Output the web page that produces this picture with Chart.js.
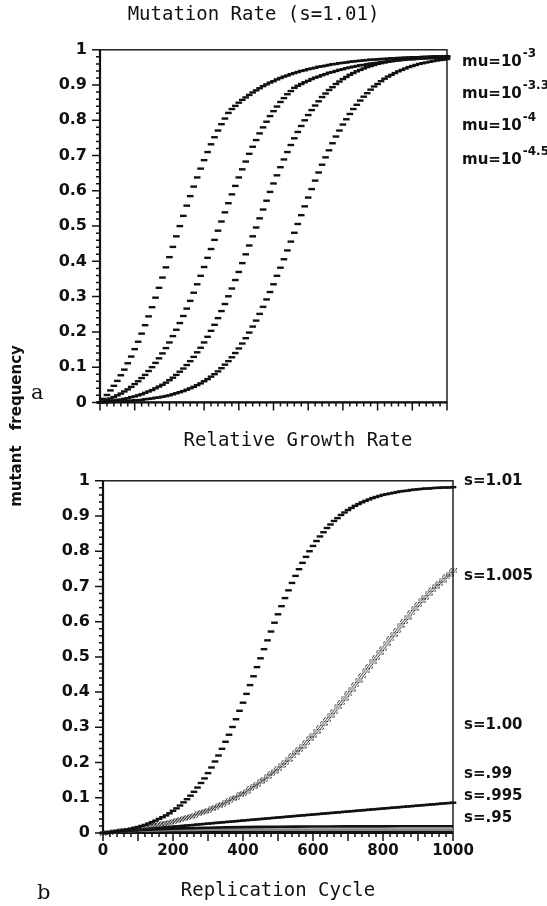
<!DOCTYPE html>
<html>
<head>
<meta charset="utf-8">
<title>mutant frequency</title>
<script src="https://cdn.jsdelivr.net/npm/chart.js@4.4.1/dist/chart.umd.min.js"></script>
<style>
  body { margin: 0; background: #fff; }
  #page { position: relative; width: 547px; height: 906px; overflow: hidden; }
  #page canvas { position: absolute; left: 0; }
  #topChart { top: 0; }
  #bottomChart { top: 425px; }
  .ylab {
    position: absolute; left: 16px; top: 426px;
    transform: translate(-50%, -50%) rotate(-90deg);
    font: bold 15px "DejaVu Sans", sans-serif; color: #111;
    white-space: nowrap; word-spacing: 10px;
  }
  .panel { position: absolute; font: 21px "DejaVu Serif", serif; line-height: 21px; color: #111; }
</style>
</head>
<body>
<div id="page">
  <canvas id="topChart" width="547" height="425"></canvas>
  <canvas id="bottomChart" width="547" height="481"></canvas>
  <div class="ylab">mutant frequency</div>
  <div class="panel" style="left:31px;top:382px">a</div>
  <div class="panel" style="left:37px;top:882px">b</div>
</div>
<script>
// ======================================================
// DATA (one point every 10 cycles)
// ======================================================
const cycles = [0, 10, 20, 30, 40, 50, 60, 70, 80, 90,
  100, 110, 120, 130, 140, 150, 160, 170, 180, 190,
  200, 210, 220, 230, 240, 250, 260, 270, 280, 290,
  300, 310, 320, 330, 340, 350, 360, 370, 380, 390,
  400, 410, 420, 430, 440, 450, 460, 470, 480, 490,
  500, 510, 520, 530, 540, 550, 560, 570, 580, 590,
  600, 610, 620, 630, 640, 650, 660, 670, 680, 690,
  700, 710, 720, 730, 740, 750, 760, 770, 780, 790,
  800, 810, 820, 830, 840, 850, 860, 870, 880, 890,
  900, 910, 920, 930, 940, 950, 960, 970, 980, 990, 1000];
const cycles50 = [0, 50, 100, 150, 200, 250, 300, 350, 400, 450, 500,
  550, 600, 650, 700, 750, 800, 850, 900, 950, 1000];

// panel a : s = 1.01, four mutation rates
const mu3 = [0, .010, .021, .034, .047, .061, .077, .093, .111, .130,
  .151, .172, .195, .219, .244, .270, .297, .325, .354, .383,
  .412, .441, .471, .500, .529, .558, .585, .612, .638, .663,
  .687, .710, .732, .752, .771, .789, .805, .821, .832, .841,
  .850, .858, .865, .872, .879, .885, .891, .897, .902, .907,
  .911, .916, .920, .924, .927, .931, .934, .937, .940, .942,
  .945, .947, .949, .952, .953, .955, .957, .959, .960, .962,
  .963, .964, .966, .967, .968, .969, .970, .971, .972, .972,
  .973, .974, .974, .975, .976, .976, .977, .977, .978, .978,
  .979, .979, .979, .980, .980, .980, .981, .981, .981, .981, .981];
const mu35 = [0, .003, .007, .011, .015, .020, .025, .031, .037, .044,
  .052, .060, .069, .078, .089, .100, .112, .125, .139, .154,
  .170, .188, .206, .225, .245, .266, .288, .311, .335, .359,
  .384, .410, .435, .461, .487, .513, .539, .565, .590, .614,
  .638, .661, .683, .705, .725, .744, .763, .780, .796, .812,
  .826, .839, .852, .863, .874, .883, .892, .898, .903, .908,
  .912, .917, .921, .924, .928, .931, .935, .937, .940, .943,
  .945, .948, .950, .952, .954, .956, .957, .959, .961, .962,
  .963, .965, .966, .967, .968, .969, .970, .971, .972, .973,
  .973, .974, .975, .975, .976, .976, .977, .977, .978, .978, .979];
const mu4 = [0, .001, .002, .004, .005, .007, .008, .010, .012, .015,
  .017, .020, .023, .027, .031, .035, .040, .045, .050, .056,
  .063, .070, .078, .087, .096, .106, .117, .129, .142, .155,
  .170, .186, .203, .220, .239, .259, .279, .301, .323, .347,
  .370, .395, .420, .445, .471, .496, .522, .547, .572, .597,
  .621, .644, .667, .689, .710, .730, .749, .767, .784, .800,
  .815, .829, .842, .854, .866, .876, .886, .894, .903, .910,
  .917, .923, .929, .934, .939, .943, .947, .951, .954, .957,
  .960, .962, .964, .966, .968, .970, .971, .972, .974, .975,
  .976, .977, .978, .978, .979, .980, .980, .981, .981, .981, .982];
const mu45 = [0, 0, .001, .001, .002, .002, .003, .003, .004, .005,
  .006, .006, .007, .009, .010, .011, .013, .014, .016, .018,
  .020, .023, .026, .029, .032, .036, .040, .044, .049, .054,
  .060, .066, .073, .080, .088, .097, .107, .117, .128, .140,
  .153, .167, .182, .198, .215, .232, .251, .271, .292, .313,
  .335, .359, .382, .406, .431, .456, .481, .506, .531, .556,
  .581, .605, .629, .652, .674, .695, .715, .735, .754, .771,
  .788, .803, .818, .832, .844, .856, .867, .877, .887, .896,
  .903, .911, .918, .924, .929, .934, .939, .943, .947, .951,
  .954, .957, .960, .962, .964, .966, .968, .970, .971, .972, .974];
const muExponents = ['-3', '-3.3', '-4', '-4.5'];
const muLabelY = [0.966, 0.875, 0.783, 0.688];

// panel b : mu = 1e-4, different relative growth rates
const s1010 = mu4; // same run as mu=10^-4 in panel a
const s1005 = [0, .001, .002, .003, .004, .006, .007, .008, .010, .011,
  .013, .014, .016, .018, .020, .022, .024, .026, .028, .030,
  .033, .036, .038, .041, .044, .047, .050, .054, .057, .061,
  .065, .069, .073, .077, .082, .087, .092, .097, .102, .108,
  .113, .119, .126, .132, .139, .146, .153, .160, .168, .176,
  .184, .192, .201, .209, .219, .228, .238, .247, .257, .268,
  .278, .289, .300, .311, .322, .334, .346, .358, .370, .382,
  .395, .408, .421, .434, .447, .460, .473, .486, .499, .512,
  .525, .538, .551, .564, .576, .589, .601, .613, .625, .637,
  .648, .659, .670, .680, .690, .700, .709, .718, .727, .735, .744];
const s1000 = [0, .0009, .0018, .0027, .0036, .0045, .0054, .0063, .0072, .0081,
  .0090, .0098, .0107, .0116, .0125, .0134, .0143, .0152, .0161, .0170,
  .0178, .0187, .0196, .0205, .0214, .0222, .0231, .0240, .0249, .0258,
  .0266, .0275, .0284, .0293, .0301, .0310, .0319, .0327, .0336, .0345,
  .0354, .0362, .0371, .0380, .0388, .0397, .0405, .0414, .0423, .0431,
  .0440, .0448, .0457, .0466, .0474, .0483, .0491, .0500, .0508, .0517,
  .0525, .0534, .0542, .0551, .0559, .0568, .0576, .0585, .0593, .0602,
  .0610, .0619, .0627, .0636, .0644, .0653, .0661, .0670, .0678, .0686,
  .0695, .0703, .0712, .0720, .0728, .0736, .0745, .0753, .0761, .0770,
  .0778, .0786, .0794, .0803, .0811, .0819, .0828, .0836, .0844, .0852, .0861];
// these three stay flat, every 50 cycles
const s0995 = [0, .0043, .0077, .0103, .0123, .0139, .0151, .0160, .0167, .0173, .0177,
  .0180, .0183, .0185, .0187, .0188, .0189, .0190, .0190, .0191, .0191];
const s0990 = [0, .0038, .0062, .0075, .0084, .0089, .0092, .0094, .0095, .0096, .0096,
  .0096, .0096, .0096, .0096, .0096, .0096, .0096, .0096, .0096, .0096];
const s0950 = [0, .0018, .0019, .0019, .0019, .0019, .0019, .0019, .0019, .0019, .0019,
  .0019, .0019, .0019, .0019, .0019, .0019, .0019, .0019, .0019, .0019];
const sLabels = ['s=1.01', 's=1.005', 's=1.00', 's=.99', 's=.995', 's=.95'];
const sLabelY = [1.0, 0.729, 0.307, 0.168, 0.105, 0.043];

// ======================================================
// STYLE
// ======================================================
const INK = '#111';
const SANS = "'DejaVu Sans', sans-serif";
const MONO = "'DejaVu Sans Mono', monospace";

// hatched marker for the s=1.005 series
const hatch = document.createElement('canvas');
hatch.width = 8; hatch.height = 5;
const hc = hatch.getContext('2d');
hc.strokeStyle = '#222';
hc.lineWidth = 0.9;
hc.beginPath();
for (let i = -4; i < 10; i += 2.6) { hc.moveTo(i, 5); hc.lineTo(i + 4, 0); }
hc.stroke();

const pts = (xs, ys) => xs.map((x, i) => ({ x, y: ys[i] }));

const dashSet = (ys) => ({
  data: pts(cycles, ys), yAxisID: 'y', showLine: false, clip: false,
  pointStyle: 'line', pointRadius: 3.3, pointHoverRadius: 3.3,
  pointBorderWidth: 2.4, pointBorderColor: INK, pointBackgroundColor: INK
});
const hatchSet = (ys) => ({
  data: pts(cycles, ys), yAxisID: 'y', showLine: false, clip: false,
  pointStyle: hatch, pointRadius: 4, pointHoverRadius: 4
});
const lineSet = (ys, color) => ({
  data: pts(cycles50, ys), yAxisID: 'y', showLine: true, clip: false,
  borderColor: color, borderWidth: 2.6, pointRadius: 0, tension: 0
});

// frame, ticks (major + minor) drawn from the scales
const framePlugin = {
  id: 'frame',
  beforeDatasetsDraw(chart) {
    const { ctx, chartArea: a, scales: { x, y } } = chart;
    ctx.save();
    ctx.strokeStyle = INK;
    ctx.lineWidth = 1.4;
    ctx.strokeRect(a.left, a.top, a.right - a.left, a.bottom - a.top);
    ctx.lineWidth = 2.2;
    ctx.beginPath();
    ctx.moveTo(a.left, a.top);
    ctx.lineTo(a.left, a.bottom);
    ctx.lineTo(a.right, a.bottom);
    ctx.stroke();
    ctx.lineWidth = 1.5;
    ctx.beginPath();
    for (let i = 0; i <= 50; i++) {
      const py = y.getPixelForValue(i / 50);
      const len = i % 5 === 0 ? 8 : 4;
      ctx.moveTo(a.left - len, py); ctx.lineTo(a.left, py);
      const px = x.getPixelForValue(i * 20);
      ctx.moveTo(px, a.bottom); ctx.lineTo(px, a.bottom + len);
    }
    ctx.stroke();
    ctx.restore();
  }
};

// labels to the right of each panel
const muLabelPlugin = {
  id: 'muLabels',
  afterDraw(chart) {
    const { ctx, chartArea: a, scales: { y } } = chart;
    ctx.save();
    ctx.fillStyle = INK;
    ctx.textBaseline = 'middle';
    muExponents.forEach((ex, i) => {
      const py = y.getPixelForValue(muLabelY[i]);
      const x0 = a.right + 15;
      ctx.font = `bold 15px ${SANS}`;
      ctx.fillText('mu=10', x0, py);
      const w = ctx.measureText('mu=10').width;
      ctx.font = `bold 12px ${SANS}`;
      ctx.fillText(ex, x0 + w + 1, py - 8);
    });
    ctx.restore();
  }
};
const sLabelPlugin = {
  id: 'sLabels',
  afterDraw(chart) {
    const { ctx, chartArea: a, scales: { y } } = chart;
    ctx.save();
    ctx.fillStyle = INK;
    ctx.textBaseline = 'middle';
    ctx.font = `bold 15px ${SANS}`;
    sLabels.forEach((t, i) => ctx.fillText(t, a.right + 11, y.getPixelForValue(sLabelY[i])));
    ctx.restore();
  }
};

const yAxis = (w) => ({
  min: 0, max: 1,
  grid: { display: false, drawTicks: false },
  border: { display: false },
  ticks: {
    stepSize: 0.1, padding: 13, color: INK,
    font: { family: SANS, weight: 'bold', size: 16 },
    callback: (v) => String(+v.toFixed(1))
  },
  afterFit: (s) => { s.width = w; }
});
const spacer = (w) => ({
  position: 'right', min: 0, max: 1,
  grid: { display: false, drawTicks: false },
  border: { display: false },
  ticks: { display: false },
  afterFit: (s) => { s.width = w; }
});
const titleOpts = (text, top, bottom) => ({
  display: true, text, color: INK,
  font: { family: MONO, size: 19, weight: 'normal' },
  padding: { top, bottom }
});

// ======================================================
// CHARTS
// ======================================================
new Chart(document.getElementById('topChart'), {
  type: 'scatter',
  data: { datasets: [dashSet(mu3), dashSet(mu35), dashSet(mu4), dashSet(mu45)] },
  options: {
    responsive: false, animation: false, events: [],
    layout: { padding: { left: 0, right: 40, top: 0, bottom: 0 } },
    plugins: {
      legend: { display: false }, tooltip: { enabled: false },
      title: titleOpts('Mutation Rate (s=1.01)', 4, 23)
    },
    scales: {
      x: {
        type: 'linear', min: 0, max: 1000,
        grid: { display: false, drawTicks: false },
        border: { display: false },
        ticks: { display: false },
        afterFit: (s) => { s.height = 20; }
      },
      y: yAxis(100),
      yRight: spacer(60)
    }
  },
  plugins: [framePlugin, muLabelPlugin]
});

new Chart(document.getElementById('bottomChart'), {
  type: 'scatter',
  data: {
    datasets: [
      dashSet(s1010), hatchSet(s1005), dashSet(s1000),
      lineSet(s0995, INK), lineSet(s0990, '#888'), lineSet(s0950, INK)
    ]
  },
  options: {
    responsive: false, animation: false, events: [],
    layout: { padding: { left: 49, right: 0, top: 0, bottom: 0 } },
    plugins: {
      legend: { display: false }, tooltip: { enabled: false },
      title: titleOpts('Relative Growth Rate', 5, 28)
    },
    scales: {
      x: {
        type: 'linear', min: 0, max: 1000,
        grid: { display: false, drawTicks: false },
        border: { display: false },
        ticks: {
          stepSize: 200, autoSkip: false, maxRotation: 0, padding: 9, color: INK,
          font: { family: SANS, weight: 'bold', size: 15 },
          callback: (v) => String(v)
        },
        title: {
          display: true, text: 'Replication Cycle', color: INK,
          font: { family: MONO, size: 19, weight: 'normal' },
          padding: { top: 0, bottom: 4 }
        },
        afterFit: (s) => { s.height = 73; }
      },
      y: yAxis(54),
      yRight: spacer(94)
    }
  },
  plugins: [framePlugin, sLabelPlugin]
});
</script>
</body>
</html>
